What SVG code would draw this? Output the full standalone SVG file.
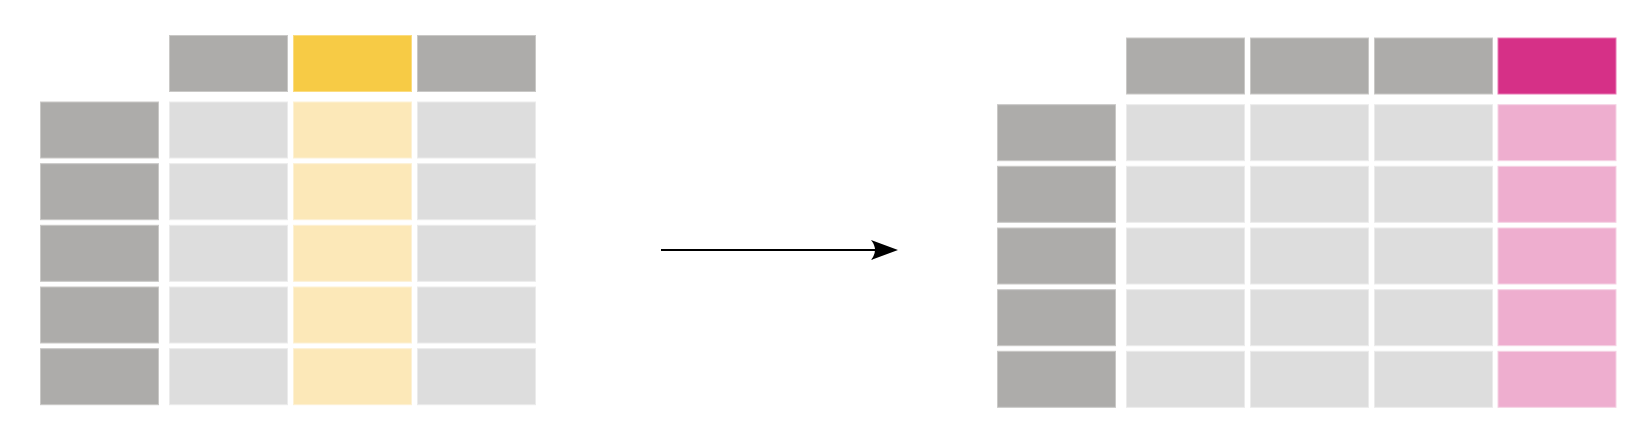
<svg xmlns="http://www.w3.org/2000/svg" width="1640" height="440" viewBox="0 0 1640 440">
<style>
rect.c{width:118px;height:56px;stroke-width:1}
.h{fill:#ADACAA;stroke:#C9C8C6}
.d{fill:#DDDDDD;stroke:#EBEBEB}
.yh{fill:#F7CB45;stroke:#FBDC80}
.yd{fill:#FCE8B8;stroke:#FDF1D4}
.ph{fill:#D63087;stroke:#E87AB4}
.pd{fill:#EEAECF;stroke:#F6D2E4}
.conn{stroke:#000;stroke-width:2;fill:none}
</style>
<defs>
<marker id="arr" markerUnits="userSpaceOnUse" markerWidth="30" markerHeight="24" refX="4" refY="10" orient="auto" viewBox="0 0 30 20">
<path d="M0,0 L27,10 L0,20 Q8,10 0,0 Z" fill="#000"/>
</marker>
</defs>
<g id="input-table">
<rect class="c h" x="169.5" y="35.5"/>
<rect class="c yh" x="293.5" y="35.5"/>
<rect class="c h" x="417.5" y="35.5"/>
<rect class="c h" x="40.5" y="102"/><rect class="c d" x="169.5" y="102"/><rect class="c yd" x="293.5" y="102"/><rect class="c d" x="417.5" y="102"/>
<rect class="c h" x="40.5" y="163.7"/><rect class="c d" x="169.5" y="163.7"/><rect class="c yd" x="293.5" y="163.7"/><rect class="c d" x="417.5" y="163.7"/>
<rect class="c h" x="40.5" y="225.3"/><rect class="c d" x="169.5" y="225.3"/><rect class="c yd" x="293.5" y="225.3"/><rect class="c d" x="417.5" y="225.3"/>
<rect class="c h" x="40.5" y="287"/><rect class="c d" x="169.5" y="287"/><rect class="c yd" x="293.5" y="287"/><rect class="c d" x="417.5" y="287"/>
<rect class="c h" x="40.5" y="348.7"/><rect class="c d" x="169.5" y="348.7"/><rect class="c yd" x="293.5" y="348.7"/><rect class="c d" x="417.5" y="348.7"/>
</g>
<g id="output-table">
<rect class="c h" x="1126.5" y="38"/>
<rect class="c h" x="1250.5" y="38"/>
<rect class="c h" x="1374.5" y="38"/>
<rect class="c ph" x="1498" y="38"/>
<rect class="c h" x="997.5" y="104.7"/><rect class="c d" x="1126.5" y="104.7"/><rect class="c d" x="1250.5" y="104.7"/><rect class="c d" x="1374.5" y="104.7"/><rect class="c pd" x="1498" y="104.7"/>
<rect class="c h" x="997.5" y="166.3"/><rect class="c d" x="1126.5" y="166.3"/><rect class="c d" x="1250.5" y="166.3"/><rect class="c d" x="1374.5" y="166.3"/><rect class="c pd" x="1498" y="166.3"/>
<rect class="c h" x="997.5" y="228"/><rect class="c d" x="1126.5" y="228"/><rect class="c d" x="1250.5" y="228"/><rect class="c d" x="1374.5" y="228"/><rect class="c pd" x="1498" y="228"/>
<rect class="c h" x="997.5" y="289.7"/><rect class="c d" x="1126.5" y="289.7"/><rect class="c d" x="1250.5" y="289.7"/><rect class="c d" x="1374.5" y="289.7"/><rect class="c pd" x="1498" y="289.7"/>
<rect class="c h" x="997.5" y="351.3"/><rect class="c d" x="1126.5" y="351.3"/><rect class="c d" x="1250.5" y="351.3"/><rect class="c d" x="1374.5" y="351.3"/><rect class="c pd" x="1498" y="351.3"/>
</g>
<g id="connectors">
<path class="conn" d="M661,250 H875" marker-end="url(#arr)"/>
</g>
</svg>
